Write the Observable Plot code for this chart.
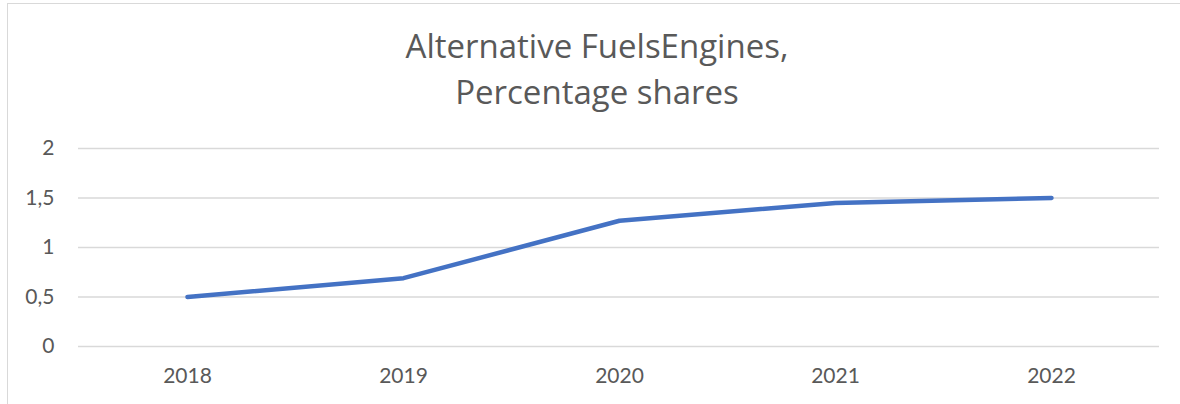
<!DOCTYPE html>
<html>
<head>
<meta charset="utf-8">
<script src="https://cdn.jsdelivr.net/npm/d3@7"></script>
<script src="https://cdn.jsdelivr.net/npm/@observablehq/plot@0.6"></script>
<style>
  html, body { margin: 0; padding: 0; background: #fff; }
  #wrap { position: relative; width: 1180px; height: 404px; overflow: hidden; font-family: Lato, "Open Sans", sans-serif; }
  #frame { position: absolute; left: 7px; top: 3px; width: 1300px; height: 500px; border: 1.5px solid #d9d9d9; box-sizing: border-box; }
  #title { position: absolute; left: 7px; width: 1180px; top: 23px; text-align: center; color: #595959; font-family: "Open Sans", sans-serif; font-size: 33px; line-height: 46px; }
  #chart { position: absolute; left: 0; top: 120px; }
</style>
</head>
<body>
<div id="wrap">
  <div id="frame"></div>
  <div id="title">Alternative FuelsEngines,<br>Percentage shares</div>
  <div id="chart"></div>
</div>
<script>
const years = ["2018", "2019", "2020", "2021", "2022"];
const shares = [0.5, 0.69, 1.27, 1.45, 1.5];
const yTicks = [0, 0.5, 1, 1.5, 2];

const data = years.map((y, i) => ({year: y, value: shares[i]}));
const fmt = d => String(d).replace(".", ",");

const plot = Plot.plot({
  width: 1180,
  height: 284,
  marginLeft: 78,
  marginRight: 21,
  marginTop: 28,
  marginBottom: 58,
  style: {fontFamily: "Lato, 'Open Sans', sans-serif", fontSize: "21px", color: "#595959", background: "transparent"},
  x: {type: "point", domain: years, padding: 0.5, label: null},
  y: {domain: [0, 2], label: null},
  marks: [
    Plot.ruleY(yTicks, {stroke: "#d9d9d9", strokeWidth: 1.5}),
    Plot.axisY({ticks: yTicks, tickFormat: fmt, tickSize: 0, tickPadding: 24, label: null, fill: "#595959"}),
    Plot.axisX({tickSize: 0, tickPadding: 22, label: null, fill: "#595959"}),
    Plot.line(data, {x: "year", y: "value", stroke: "#4472c4", strokeWidth: 4.5, strokeLinecap: "round", strokeLinejoin: "round"})
  ]
});
document.getElementById("chart").appendChild(plot);
</script>
</body>
</html>
